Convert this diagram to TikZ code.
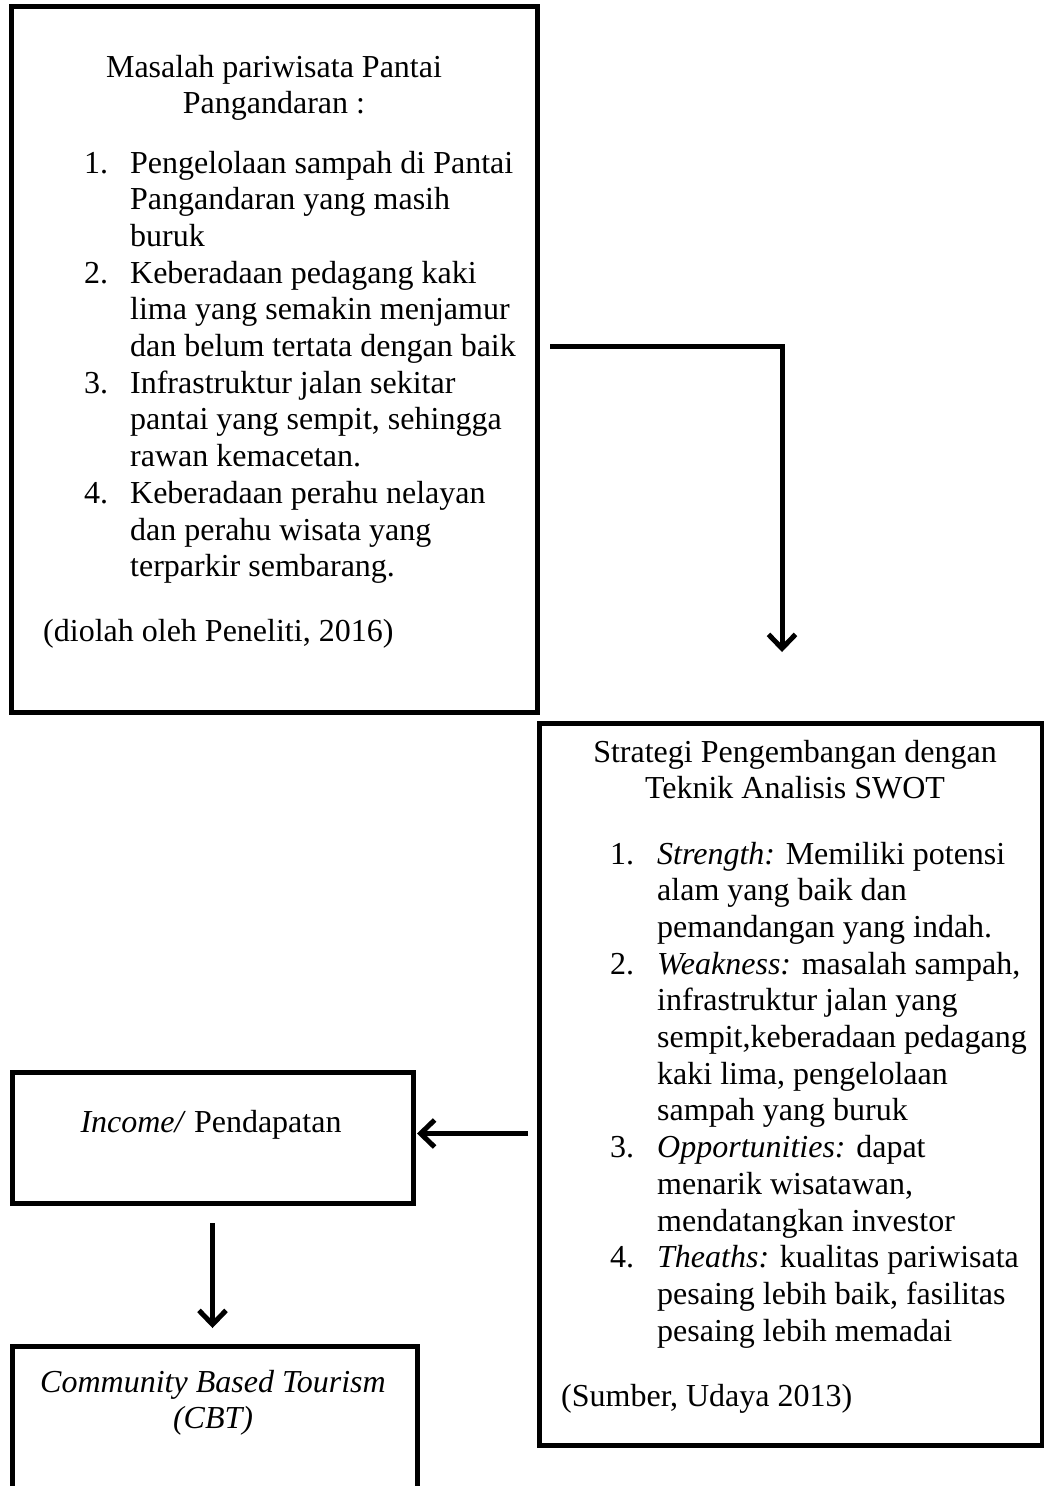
\documentclass[tikz,border=0pt]{standalone}
\usepackage{fontspec}
\setmainfont{Liberation Serif}
\usetikzlibrary{arrows.meta,calc}

\tikzset{
  kotak/.style={draw,line width=5pt,inner sep=0pt,outer sep=0pt},
  teks/.style={inner sep=0pt,font=\fontsize{32}{36.7}\selectfont},
  panah/.style={line width=5pt,-{Straight Barb[length=14pt,width=27pt]}}
}

\begin{document}
\begin{tikzpicture}[x=1pt,y=-1pt]
\useasboundingbox (0,0) rectangle (1044,1486);
\clip (0,0) rectangle (1044,1486);

\node[kotak,minimum width=526pt,minimum height=706pt] (masalah) at (274,359) {};
\node[kotak,minimum width=503pt,minimum height=722pt] (strategi) at (790.5,1084) {};
\node[kotak,minimum width=401pt,minimum height=131pt] (pendapatan) at (212.5,1137.5) {};
\node[kotak,minimum width=405pt,minimum height=220pt] (cbt) at (214.5,1456) {};

\node[teks,anchor=base] (judulmasalah) at (274,77) {\begin{tabular}[t]{@{}c@{}}Masalah pariwisata Pantai\\Pangandaran :\end{tabular}};
\node[teks,anchor=base west] (daftarmasalah) at (84,173) {\begin{tabular}[t]{@{}p{46pt}@{}l@{}}
1. & Pengelolaan sampah di Pantai\\
   & Pangandaran yang masih\\
   & buruk\\
2. & Keberadaan pedagang kaki\\
   & lima yang semakin menjamur\\
   & dan belum tertata dengan baik\\
3. & Infrastruktur jalan sekitar\\
   & pantai yang sempit, sehingga\\
   & rawan kemacetan.\\
4. & Keberadaan perahu nelayan\\
   & dan perahu wisata yang\\
   & terparkir sembarang.
\end{tabular}};
\node[teks,anchor=base west] (sumbermasalah) at (43,641) {(diolah oleh Peneliti, 2016)};

\node[teks,anchor=base] (judulstrategi) at (795,762) {\begin{tabular}[t]{@{}c@{}}Strategi Pengembangan dengan\\Teknik Analisis SWOT\end{tabular}};
\node[teks,anchor=base west] (daftarstrategi) at (610,864) {\begin{tabular}[t]{@{}p{47pt}@{}l@{}}
1. & \textit{Strength:} Memiliki potensi\\
   & alam yang baik dan\\
   & pemandangan yang indah.\\
2. & \textit{Weakness:} masalah sampah,\\
   & infrastruktur jalan yang\\
   & sempit,keberadaan pedagang\\
   & kaki lima, pengelolaan\\
   & sampah yang buruk\\
3. & \textit{Opportunities:} dapat\\
   & menarik wisatawan,\\
   & mendatangkan investor\\
4. & \textit{Theaths:} kualitas pariwisata\\
   & pesaing lebih baik, fasilitas\\
   & pesaing lebih memadai
\end{tabular}};
\node[teks,anchor=base west] (sumberstrategi) at (561,1406) {(Sumber, Udaya 2013)};

\node[teks,anchor=base] (teksincome) at (211,1132) {\textit{Income/} Pendapatan};
\node[teks,anchor=base] (tekscbt) at (213,1392) {\begin{tabular}[t]{@{}c@{}}\textit{Community Based Tourism}\\\textit{(CBT)}\end{tabular}};

\draw[panah] ($(masalah.east)+(13,-13)$) -| ($(strategi.north)+(-8.5,-71)$);
\draw[panah] ($(strategi.west |- pendapatan.east)+(-11,-4)$) -- ($(pendapatan.east)+(4,-4)$);
\draw[panah,shorten <=20pt,shorten >=18pt] (pendapatan.south) -- (pendapatan.south |- cbt.north);
%\draw[panah] (pendapatan.south) -- (cbt.north);

\end{tikzpicture}
\end{document}
